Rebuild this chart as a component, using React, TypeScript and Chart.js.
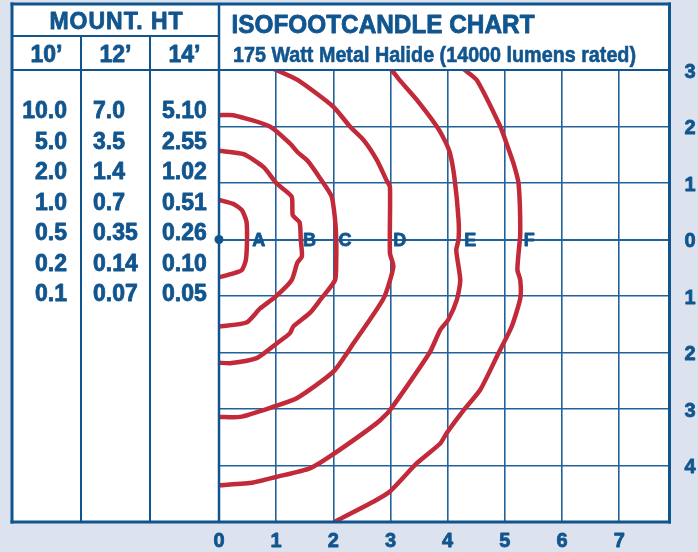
import React, { useEffect, useRef } from 'react';
import { Chart, registerables } from 'chart.js';

Chart.register(...registerables);

// ---- data ----
const curveNames = ['A', 'B', 'C', 'D', 'E', 'F'];
const curveA = [[0, 0.70], [0.25, 0.63], [0.40, 0.52], [0.48, 0.32], [0.49, 0.0], [0.47, -0.36], [0.40, -0.54], [0.25, -0.60], [0, -0.67]];
const curveB = [[0, 1.57], [0.43, 1.51], [0.78, 1.28], [1.01, 0.99], [1.27, 0.76], [1.29, 0.43], [1.41, 0.30], [1.43, 0.0], [1.45, -0.30], [1.37, -0.41], [1.27, -0.72], [0.98, -1.02], [0.72, -1.22], [0.48, -1.47], [0, -1.54]];
const curveC = [[0, 2.20], [0.25, 2.20], [0.89, 2.0], [1.24, 1.70], [1.38, 1.54], [1.56, 1.38], [1.77, 1.08], [1.97, 0.76], [2.03, 0.35], [2.05, 0.0], [2.05, -0.36], [2.03, -0.72], [1.77, -1.07], [1.59, -1.30], [1.30, -1.54], [1.24, -1.66], [1.01, -1.84], [0.66, -2.10], [0.19, -2.19], [0, -2.18]];
const curveD = [[0.8, 3.08], [1.0, 3.0], [1.38, 2.82], [2.0, 2.35], [2.29, 2.0], [2.53, 1.76], [2.76, 1.41], [2.93, 1.05], [2.99, 0.93], [2.99, -0.24], [3.05, -0.48], [2.88, -1.04], [2.35, -1.84], [2.0, -2.34], [1.36, -2.81], [0.95, -2.96], [0.37, -3.14], [0, -3.14]];
const curveE = [[2.95, 3.08], [3.02, 3.0], [3.16, 2.82], [3.46, 2.47], [3.81, 2.0], [3.95, 1.75], [4.04, 1.53], [4.12, 1.08], [4.19, 0.35], [4.19, 0.0], [4.15, -0.19], [4.22, -0.72], [4.16, -1.07], [4.01, -1.42], [3.87, -1.60], [3.68, -2.01], [2.99, -3.02], [2.76, -3.25], [1.94, -3.84], [1.59, -4.05], [1.01, -4.20], [0.60, -4.30], [0, -4.35]];
const curveF = [[4.2, 3.08], [4.30, 3.0], [4.51, 2.82], [4.92, 2.0], [5.03, 1.70], [5.15, 1.35], [5.24, 0.99], [5.27, 0.11], [5.24, -0.24], [5.22, -0.54], [5.27, -0.72], [5.27, -1.04], [5.12, -1.54], [4.89, -2.01], [4.57, -2.66], [4.28, -3.02], [3.98, -3.43], [3.87, -3.61], [3.46, -3.96], [2.99, -4.46], [2.70, -4.64], [2.09, -4.96], [1.95, -5.05]];
const curves = [curveA, curveB, curveC, curveD, curveE, curveF];
const labelX = [0.58, 1.47, 2.09, 3.05, 4.29, 5.33];

const xTicks = [0, 1, 2, 3, 4, 5, 6, 7];
const xTickLabels = ['0', '1', '2', '3', '4', '5', '6', '7'];
const yTicks = [3, 2, 1, 0, -1, -2, -3, -4];
const yTickLabels = ['3', '2', '1', '0', '1', '2', '3', '4'];

const tableTitle = 'MOUNT. HT';
const mountHeights = ['10\u2019', '12\u2019', '14\u2019'];
const fc10 = ['10.0', '5.0', '2.0', '1.0', '0.5', '0.2', '0.1'];
const fc12 = ['7.0', '3.5', '1.4', '0.7', '0.35', '0.14', '0.07'];
const fc14 = ['5.10', '2.55', '1.02', '0.51', '0.26', '0.10', '0.05'];
const chartTitle = 'ISOFOOTCANDLE CHART';
const chartSubtitle = '175 Watt Metal Halide (14000 lumens rated)';

// ---- style ----
const BG = '#dce3ef';
const BLUE = '#11558f';
const GRID = '#22629a';
const RED = '#c22a3a';
const FONT = '"Liberation Sans", Arial, Helvetica, sans-serif';

function heavyText(ctx: any, text: string, x: number, y: number, stroke: number, maxWidth?: number) {
  ctx.lineWidth = stroke;
  ctx.lineJoin = 'round';
  if (maxWidth !== undefined) {
    ctx.strokeText(text, x, y, maxWidth);
    ctx.fillText(text, x, y, maxWidth);
  } else {
    ctx.strokeText(text, x, y);
    ctx.fillText(text, x, y);
  }
}

const framePlugin = {
  id: 'frame',
  beforeDraw(chart: any) {
    const ctx = chart.ctx;
    const a = chart.chartArea;
    ctx.save();
    ctx.fillStyle = BG;
    ctx.fillRect(0, 0, chart.width, chart.height);
    ctx.fillStyle = '#ffffff';
    ctx.fillRect(12, 3, a.right - 12, a.bottom - 3);
    ctx.restore();
  },
  afterDatasetsDraw(chart: any) {
    const ctx = chart.ctx;
    const xs = chart.scales.x;
    const ys = chart.scales.y;
    ctx.save();
    ctx.fillStyle = BLUE;
    ctx.strokeStyle = BLUE;
    ctx.font = `bold 18px ${FONT}`;
    ctx.textAlign = 'left';
    ctx.textBaseline = 'alphabetic';
    curveNames.forEach((n, i) => {
      heavyText(ctx, n, xs.getPixelForValue(labelX[i]), ys.getPixelForValue(0) + 6.5, 0.8);
    });
    ctx.restore();
  },
  afterDraw(chart: any) {
    const ctx = chart.ctx;
    const a = chart.chartArea;
    const xs = chart.scales.x;
    const ys = chart.scales.y;
    ctx.save();
    ctx.strokeStyle = BLUE;
    const line = (x1: number, y1: number, x2: number, y2: number, w: number) => {
      ctx.lineWidth = w;
      ctx.beginPath();
      ctx.moveTo(x1, y1);
      ctx.lineTo(x2, y2);
      ctx.stroke();
    };
    // outer frame
    line(12, 2.5, 12, a.bottom + 1.5, 3);
    line(10.5, 4, a.right + 1.5, 4, 3);
    line(a.right, 2.5, a.right, a.bottom + 1.5, 3);
    line(10.5, a.bottom, a.right + 1.5, a.bottom, 3);
    // main vertical (x = 0)
    line(a.left, 3, a.left, a.bottom, 2.5);
    // table lines
    line(81, 36, 81, a.bottom, 2);
    line(150, 36, 150, a.bottom, 2);
    line(12, 36, a.left, 36, 2);
    line(12, a.top, a.right, a.top, 2);

    ctx.fillStyle = BLUE;
    ctx.strokeStyle = BLUE;
    ctx.textBaseline = 'alphabetic';
    // table header
    ctx.font = `bold 23px ${FONT}`;
    ctx.textAlign = 'center';
    (ctx as any).letterSpacing = '1px';
    heavyText(ctx, tableTitle, 116.5, 28.5, 0.8);
    (ctx as any).letterSpacing = '0px';
    const colCenters = [46.5, 115.5, 184.5];
    mountHeights.forEach((m, i) => heavyText(ctx, m, colCenters[i], 62, 0.8));
    // table values
    for (let i = 0; i < fc10.length; i++) {
      const by = 118.3 + i * 30.5;
      ctx.textAlign = 'right';
      heavyText(ctx, fc10[i], 67, by, 0.8);
      ctx.textAlign = 'left';
      heavyText(ctx, fc12[i], 93, by, 0.8);
      heavyText(ctx, fc14[i], 162, by, 0.8);
    }
    // title
    ctx.textAlign = 'left';
    ctx.font = `bold 25px ${FONT}`;
    heavyText(ctx, chartTitle, 231.5, 33.3, 0.8, 303);
    ctx.font = `bold 22px ${FONT}`;
    heavyText(ctx, chartSubtitle, 233, 61.7, 0.6, 403);
    // axis labels
    ctx.font = `bold 20px ${FONT}`;
    ctx.textAlign = 'center';
    xTicks.forEach((v, i) => heavyText(ctx, xTickLabels[i], xs.getPixelForValue(v), 547, 0.8));
    yTicks.forEach((v, i) => heavyText(ctx, yTickLabels[i], 690, ys.getPixelForValue(v) + 7.5, 0.8));
    ctx.restore();
  },
};

export default function App() {
  const ref = useRef<HTMLCanvasElement | null>(null);
  useEffect(() => {
    document.body.style.margin = '0';
    if (!ref.current) return;
    const datasets: any[] = curves.map((c, i) => ({
      label: curveNames[i],
      data: c.map(([x, y]) => ({ x, y })),
      showLine: true,
      borderColor: RED,
      borderWidth: 4.5,
      pointRadius: 0,
      tension: 0.2,
      fill: false,
      borderCapStyle: 'round',
      borderJoinStyle: 'round',
    }));
    datasets.push({
      label: 'origin',
      data: [{ x: 0, y: 0 }],
      showLine: false,
      pointRadius: 4.5,
      pointBackgroundColor: BLUE,
      pointBorderWidth: 0,
      clip: false,
    });
    const chart = new Chart(ref.current, {
      type: 'scatter',
      data: { datasets },
      options: {
        responsive: false,
        animation: false,
        layout: { padding: { left: 219, right: 28.5, top: 70, bottom: 30 } },
        plugins: { legend: { display: false }, tooltip: { enabled: false } },
        scales: {
          x: {
            type: 'linear',
            min: 0,
            max: 7.88,
            afterBuildTicks: (s: any) => { s.ticks = xTicks.map((v) => ({ value: v })); },
            ticks: { display: false },
            grid: { color: GRID, lineWidth: 1.6, drawTicks: false },
            border: { display: false },
          },
          y: {
            type: 'linear',
            min: -5,
            max: 3,
            afterBuildTicks: (s: any) => { s.ticks = yTicks.map((v) => ({ value: v })); },
            ticks: { display: false },
            grid: { color: GRID, lineWidth: (c: any) => (c.tick && c.tick.value === 0 ? 2 : 1.6), drawTicks: false },
            border: { display: false },
          },
        },
      } as any,
      plugins: [framePlugin],
    });
    return () => chart.destroy();
  }, []);
  return <canvas ref={ref} width={698} height={552} style={{ display: 'block' }} />;
}
